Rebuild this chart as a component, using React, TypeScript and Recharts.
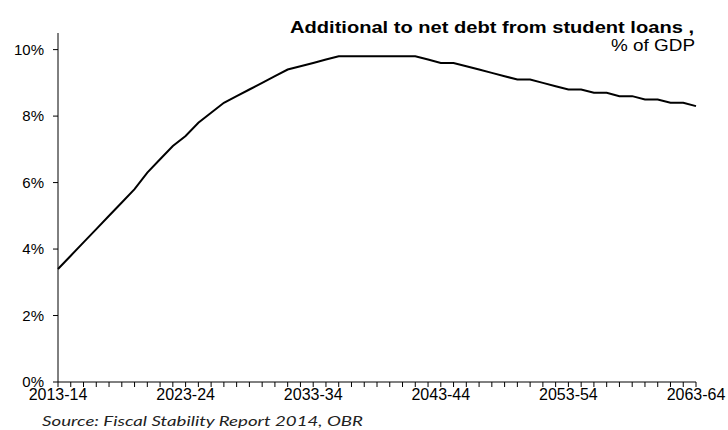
import React from 'react';
import { LineChart, Line, XAxis, YAxis } from 'recharts';

const firstYear = 2013;
const yearCount = 51;

// fiscal years 2013-14 ... 2063-64
const years: string[] = Array.from({ length: yearCount }, (_, i) => {
  const y = firstYear + i;
  return `${y}-${String((y + 1) % 100).padStart(2, '0')}`;
});

const debtShare: number[] = [
  3.4, 3.8, 4.2, 4.6, 5.0, 5.4, 5.8, 6.3, 6.7, 7.1,
  7.4, 7.8, 8.1, 8.4, 8.6, 8.8, 9.0, 9.2, 9.4, 9.5,
  9.6, 9.7, 9.8, 9.8, 9.8, 9.8, 9.8, 9.8, 9.8, 9.7,
  9.6, 9.6, 9.5, 9.4, 9.3, 9.2, 9.1, 9.1, 9.0, 8.9,
  8.8, 8.8, 8.7, 8.7, 8.6, 8.6, 8.5, 8.5, 8.4, 8.4,
  8.3,
];

const yTicks = [0, 2, 4, 6, 8, 10];

const data = years.map((year, i) => ({ year, value: debtShare[i] }));

const font = 'Arial, "Liberation Sans", sans-serif';

const XTick = (props: any) => {
  const { x, y, payload, index } = props;
  if (index % 10 !== 0) return null;
  return (
    <text x={x} y={y} dy="0.71em" textAnchor="middle" fill="#000" fontSize={16} fontFamily={font}>
      {payload.value}
    </text>
  );
};

export default function App() {
  return (
    <div style={{ position: 'absolute', left: 0, top: 0, width: 728, height: 430, background: '#fff' }}>
      <LineChart width={728} height={430} data={data} margin={{ top: 33, right: 32, left: 0, bottom: 18 }}>
        <XAxis
          dataKey="year"
          interval={0}
          tick={<XTick />}
          tickSize={5}
          tickMargin={2}
          height={30}
          axisLine={{ stroke: '#000' }}
          tickLine={{ stroke: '#000' }}
        />
        <YAxis
          domain={[0, 10.5]}
          ticks={yTicks}
          width={58}
          tickSize={5}
          tickMargin={9}
          tickFormatter={(v: number) => `${v}%`}
          tick={{ fill: '#000', fontSize: 15, fontFamily: font }}
          axisLine={{ stroke: '#000' }}
          tickLine={{ stroke: '#000' }}
        />
        <Line
          type="linear"
          dataKey="value"
          stroke="#000"
          strokeWidth={2}
          dot={false}
          isAnimationActive={false}
        />
      </LineChart>
      {/* titles and source note */}
      <svg width={728} height={430} style={{ position: 'absolute', left: 0, top: 0, pointerEvents: 'none' }}>
        <text x={694} y={33} textAnchor="end" fontFamily={font} fontWeight="bold" fontSize={17} fill="#000"
          textLength={404} lengthAdjust="spacingAndGlyphs">
          Additional to net debt from student loans ,
        </text>
        <text x={695} y={51} textAnchor="end" fontFamily={font} fontSize={16} fill="#000"
          textLength={84} lengthAdjust="spacingAndGlyphs">
          % of GDP
        </text>
        <text x={42} y={426} fontFamily='Lato, "Open Sans", sans-serif' fontStyle="italic" fontSize={14} fill="#222"
          textLength={321} lengthAdjust="spacingAndGlyphs">
          Source: Fiscal Stability Report 2014, OBR
        </text>
      </svg>
    </div>
  );
}
